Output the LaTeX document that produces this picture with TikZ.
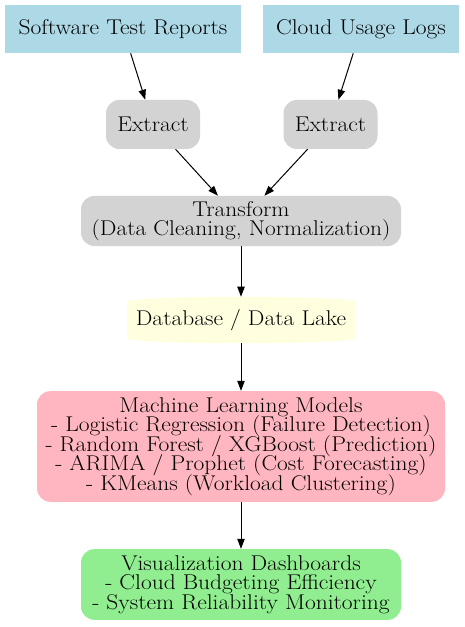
\documentclass[tikz,border=0pt]{standalone}
\usepackage{fontspec}
\setmainfont{Latin Modern Roman}[FakeStretch=1.1]
\usepackage{tikz}
\usetikzlibrary{arrows.meta}
\definecolor{srcblue}{HTML}{ADD8E6}
\definecolor{stepgray}{HTML}{D3D3D3}
\definecolor{dbyellow}{HTML}{FFFFE0}
\definecolor{mlpink}{HTML}{FFB6C1}
\definecolor{vizgreen}{HTML}{90EE90}
\tikzset{
	srcbox/.style={rectangle, fill=srcblue, minimum height=36pt, inner sep=0pt},
	roundbox/.style={rectangle, rounded corners=10pt, inner sep=0pt, align=center},
	flowarrow/.style={line width=0.75pt, -{Triangle[length=7.5pt,width=5.5pt]}},
}
\def\graphfont{\fontsize{16}{14.7}\selectfont\lineskiplimit=-20pt}

\begin{document}
\begin{tikzpicture}[x=0.75pt, y=-0.75pt, font=\graphfont]
			%%%%% START %%%%%
			\useasboundingbox (0, 0) rectangle (464, 627);
			
			% sources
			\node[srcbox, minimum width=177pt] (reports) at (123, 29) {Software Test Reports};
			\node[srcbox, minimum width=147pt] (logs) at (361, 29) {Cloud Usage Logs};
			
			% extract steps
			\node[roundbox, fill=stepgray, minimum width=70.5pt, minimum height=36.75pt] (extractA) at (153, 124.5) {Extract};
			\node[roundbox, fill=stepgray, minimum width=70.5pt, minimum height=36.75pt] (extractB) at (330.5, 124.5) {Extract};
			
			\node[roundbox, fill=stepgray, minimum width=240pt, minimum height=37.5pt] (transform) at (241, 221) {Transform\\(Data Cleaning, Normalization)};
			
			% storage (cylinder)
			\fill[dbyellow] (127, 302) -- (127, 338)
				.. controls (127, 345) and (355, 345) .. (355, 338) -- (355, 302)
				.. controls (355, 295) and (127, 295) .. (127, 302);
			\node[inner sep=0pt, minimum width=171pt, minimum height=34.5pt] (lake) at (241, 320) {Database / Data Lake};
			
			\node[roundbox, fill=mlpink, minimum width=306pt, minimum height=83pt] (models) at (241, 446.5) {Machine Learning Models\\- Logistic Regression (Failure Detection)\\- Random Forest / XGBoost (Prediction)\\- ARIMA / Prophet (Cost Forecasting)\\- KMeans (Workload Clustering)};
			
			\node[roundbox, fill=vizgreen, minimum width=240pt, minimum height=53pt] (dashboards) at (241, 584.5) {Visualization Dashboards\\- Cloud Budgeting Efficiency\\- System Reliability Monitoring};
			
			% edges
			\draw[flowarrow] (reports) -- (extractA);
			\draw[flowarrow] (logs) -- (extractB);
			\draw[flowarrow] (extractA) -- (transform);
			\draw[flowarrow] (extractB) -- (transform);
			\draw[flowarrow] (transform) -- (lake);
			\draw[flowarrow] (lake) -- (models);
			\draw[flowarrow] (models) -- (dashboards);
			
			%%%%% END %%%%%
		\end{tikzpicture}
\end{document}
